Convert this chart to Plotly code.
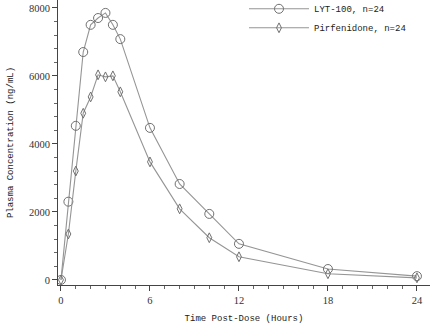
import plotly.graph_objects as go

time_h = [0, 0.5, 1, 1.5, 2, 2.5, 3, 3.5, 4, 6, 8, 10, 12, 18, 24]
lyt100 = [0, 2300, 4530, 6700, 7500, 7700, 7850, 7500, 7080, 4470, 2820, 1940, 1060, 320, 110]
pirfenidone = [0, 1350, 3200, 4900, 5380, 6030, 5970, 6000, 5530, 3470, 2090, 1240, 680, 180, 60]
series_names = ["LYT-100, n=24", "Pirfenidone, n=24"]
x_ticks = [0, 6, 12, 18, 24]
y_ticks = [0, 2000, 4000, 6000, 8000]

mono = "Liberation Mono"
serif = "Liberation Serif"
line_col = "#959595"
mark_col = "#707070"

fig = go.Figure()
fig.add_trace(go.Scatter(
    x=time_h, y=lyt100, name=series_names[0], mode="lines+markers",
    line=dict(color=line_col, width=1.1),
    marker=dict(symbol="circle-open", size=9, color=mark_col, line=dict(width=1)),
))
fig.add_trace(go.Scatter(
    x=time_h, y=pirfenidone, name=series_names[1], mode="lines+markers",
    line=dict(color=line_col, width=1.1),
    marker=dict(symbol="diamond-tall-open", size=7, color=mark_col, line=dict(width=1)),
))

fig.update_layout(
    width=432, height=326,
    margin=dict(l=58, r=2, t=0, b=41, autoexpand=False),
    paper_bgcolor="white", plot_bgcolor="white",
    showlegend=True,
    legend=dict(x=0.5, y=1.02, xanchor="left", yanchor="top",
                font=dict(family=mono, size=9, color="#222"),
                bgcolor="rgba(0,0,0,0)", tracegroupgap=0, itemwidth=60),
    xaxis=dict(
        range=[-0.2, 24.88], tickvals=x_ticks, ticks="outside", ticklen=5,
        tickcolor="#444", showline=True, linecolor="#444", linewidth=1,
        showgrid=False, zeroline=False,
        tickfont=dict(family=serif, size=10.5, color="#333"),
        minor=dict(dtick=1, ticks="outside", ticklen=3, tickcolor="#666", showgrid=False),
        title=dict(text="Time Post-Dose (Hours)", font=dict(family=mono, size=9, color="#222"), standoff=10),
    ),
    yaxis=dict(
        range=[-150, 8230], tickvals=y_ticks, ticks="outside", ticklen=5,
        tickcolor="#444", showline=True, linecolor="#444", linewidth=1,
        showgrid=False, zeroline=False,
        tickfont=dict(family=serif, size=10.5, color="#333"),
        minor=dict(dtick=400, ticks="outside", ticklen=3, tickcolor="#666", showgrid=False),
        title=dict(text="Plasma Concentration (ng/mL)", font=dict(family=mono, size=9, color="#222"), standoff=13),
    ),
)

fig.write_html("out.html")
